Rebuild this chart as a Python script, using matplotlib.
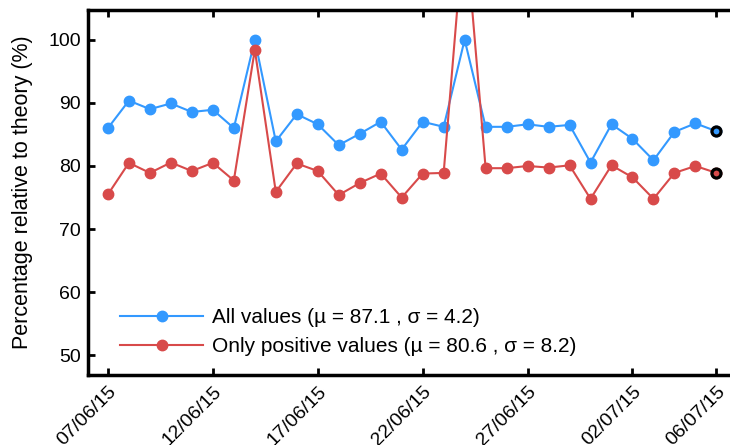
import matplotlib.pyplot as plt
import matplotlib.dates as mdates
import pandas as pd

plt.rcParams.update({
    "font.family": ["Liberation Sans", "DejaVu Sans"],
    "font.size": 14,
})

dates = pd.date_range("2015-06-07", "2015-07-06", freq="D")
all_values = [86.0, 90.35, 89.0, 89.9, 88.55, 88.9, 86.0, 100.0, 83.9, 88.2,
              86.6, 83.3, 85.1, 87.0, 82.6, 87.0, 86.2, 100.0, 86.2, 86.2,
              86.6, 86.2, 86.5, 80.55, 86.6, 84.3, 80.9, 85.4, 86.75, 85.5]
positive_values = [75.5, 80.5, 78.9, 80.55, 79.2, 80.5, 77.7, 98.4, 75.9, 80.4,
                   79.2, 75.4, 77.3, 78.8, 75.0, 78.8, 78.9, 119.0, 79.65, 79.65,
                   80.0, 79.75, 80.1, 74.8, 80.1, 78.2, 74.8, 78.9, 80.0, 78.9]
labels = ["All values (\u00b5 = 87.1 , \u03c3 = 4.2)",
          "Only positive values (\u00b5 = 80.6 , \u03c3 = 8.2)"]
tick_dates = pd.to_datetime(["2015-06-07", "2015-06-12", "2015-06-17", "2015-06-22",
                             "2015-06-27", "2015-07-02", "2015-07-06"])

blue = "#3399ff"
red = "#d84a4a"

fig = plt.figure(figsize=(7.3, 4.45), dpi=100)
# axes runs past the right edge of the figure, like the cropped original
ax = fig.add_axes([88 / 730, 1 - 375 / 445, (750 - 88) / 730, 365 / 445])

for vals, col, lab in [(all_values, blue, labels[0]), (positive_values, red, labels[1])]:
    ax.plot(dates, vals, "-o", color=col, lw=1.5, ms=7.5, label=lab)
    ax.plot(dates[-1:], vals[-1:], "o", color=col, ms=6.5,
            mec="black", mew=2.3, zorder=5)

day = pd.Timedelta(days=1)
ax.set_xlim(dates[0] - 0.95 * day, dates[-1] + 1.6 * day)
ax.set_ylim(46.9, 104.7)
ax.set_yticks([50, 60, 70, 80, 90, 100])
ax.set_xticks(tick_dates)
ax.xaxis.set_major_formatter(mdates.DateFormatter("%d/%m/%y"))
plt.setp(ax.get_xticklabels(), rotation=45, ha="right", rotation_mode="anchor")

ax.tick_params(direction="in", length=5, width=2, top=True, right=False, pad=5)
ax.tick_params(axis="x", pad=6)
for side in ["left", "bottom", "top"]:
    ax.spines[side].set_linewidth(2.5)
ax.spines["right"].set_visible(False)

ax.set_ylabel("Percentage relative to theory (%)", fontsize=15.5, labelpad=11)

ax.legend(loc="lower left", bbox_to_anchor=(0.02, 0.0), frameon=False,
          fontsize=15, handlelength=4.0, handletextpad=0.4, labelspacing=0.5,
          numpoints=1)

fig.savefig("out.png", dpi=100)
